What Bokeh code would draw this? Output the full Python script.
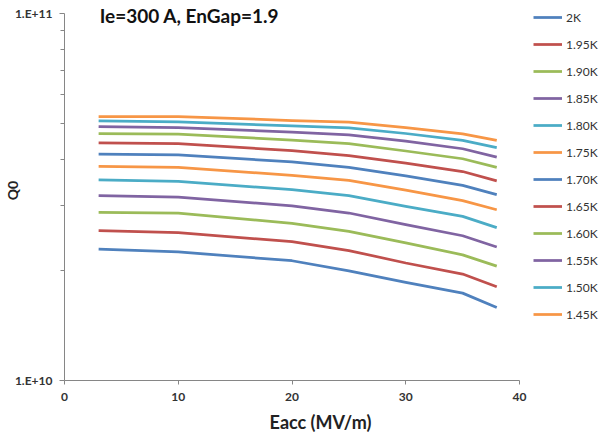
import math
from bokeh.plotting import figure
from bokeh.models import FixedTicker, Legend, LegendItem, Label
from bokeh.embed import file_html
from bokeh.resources import INLINE

# Accelerating field (MV/m)
eacc = [3, 10, 20, 25, 30, 35, 38]

# Q0 values in units of 1e10, one list per temperature
q_2k   = [2.28, 2.24, 2.12, 1.99, 1.85, 1.73, 1.58]
q_195k = [2.56, 2.53, 2.39, 2.26, 2.09, 1.95, 1.80]
q_190k = [2.87, 2.86, 2.68, 2.55, 2.37, 2.20, 2.05]
q_185k = [3.19, 3.16, 2.99, 2.86, 2.66, 2.48, 2.31]
q_180k = [3.52, 3.49, 3.31, 3.19, 2.98, 2.80, 2.61]
q_175k = [3.83, 3.81, 3.62, 3.51, 3.30, 3.09, 2.92]
q_170k = [4.14, 4.12, 3.94, 3.81, 3.61, 3.40, 3.21]
q_165k = [4.44, 4.42, 4.23, 4.10, 3.91, 3.71, 3.50]
q_160k = [4.71, 4.69, 4.52, 4.42, 4.22, 4.02, 3.81]
q_155k = [4.92, 4.89, 4.75, 4.67, 4.49, 4.28, 4.06]
q_150k = [5.10, 5.07, 4.94, 4.88, 4.71, 4.51, 4.31]
q_145k = [5.24, 5.24, 5.11, 5.06, 4.89, 4.70, 4.51]

series_names = ["2K", "1.95K", "1.90K", "1.85K", "1.80K", "1.75K",
                "1.70K", "1.65K", "1.60K", "1.55K", "1.50K", "1.45K"]
series_values = [q_2k, q_195k, q_190k, q_185k, q_180k, q_175k,
                 q_170k, q_165k, q_160k, q_155k, q_150k, q_145k]

x_ticks = [0, 10, 20, 30, 40]
y_ticks = [1e10, 1e11]
y_tick_labels = ["1.E+10", "1.E+11"]

title_text = "Ie=300 A, EnGap=1.9"

palette = ["#4F81BD", "#C0504D", "#9BBB59", "#8064A2", "#4BACC6", "#F79646"] * 2

FONT = "Lato"

# frame extends above 1e11 and right of 40 so the in-plot title and legend are not clipped;
# the axis lines are bounded to the data range
y_top = 1e11 * 10 ** (13 / 367)
x_right = 40 * (603 - 64) / 455

p = figure(width=603, height=440, y_axis_type="log",
           x_range=(0, x_right), y_range=(1e10, y_top),
           output_backend="svg", toolbar_location=None,
           min_border_left=64, min_border_right=0,
           min_border_top=0, min_border_bottom=60)
p.outline_line_color = None
p.xgrid.visible = False
p.ygrid.visible = False
p.background_fill_color = "white"
p.border_fill_color = "white"

items = []
for name, vals, col in zip(series_names, series_values, palette):
    r = p.line(eacc, [v * 1e10 for v in vals], line_color=col, line_width=2.75,
               line_join="round")
    items.append(LegendItem(label=name, renderers=[r]))

# axes
axis_col = "#868686"
p.xaxis.ticker = FixedTicker(ticks=x_ticks)
p.yaxis.ticker = FixedTicker(ticks=y_ticks,
                             minor_ticks=[k * 1e10 for k in range(2, 10)])
p.yaxis.bounds = (1e10, 1e11)
p.xaxis.bounds = (0, 40)
p.yaxis.major_label_overrides = {t: l for t, l in zip(y_ticks, y_tick_labels)}
for ax in (p.xaxis, p.yaxis):
    ax.axis_line_color = axis_col
    ax.major_tick_line_color = axis_col
    ax.minor_tick_line_color = axis_col
    ax.major_label_text_font = FONT
    ax.major_label_text_font_style = "bold"
    ax.major_label_text_color = "#333333"
p.xaxis.major_tick_out = 4
p.xaxis.major_tick_in = 0
p.xaxis.minor_tick_line_color = None
p.xaxis.major_label_text_font_size = "12px"
p.xaxis.major_label_standoff = 8
# trailing em spaces shift the centred label left so it sits where the reference has it
p.xaxis.axis_label = "Eacc (MV/m)\u2003\u2003"
p.xaxis.axis_label_text_font = FONT
p.xaxis.axis_label_text_font_size = "18px"
p.xaxis.axis_label_text_font_style = "bold"
p.xaxis.axis_label_text_color = "#222222"
p.xaxis.axis_label_standoff = 7

p.yaxis.major_tick_out = 5
p.yaxis.major_tick_in = 0
p.yaxis.minor_tick_out = 4
p.yaxis.minor_tick_in = 0
p.yaxis.major_label_text_font_size = "12px"
p.yaxis.major_label_standoff = 7
p.yaxis.axis_label = "Q0"
p.yaxis.axis_label_text_font = FONT
p.yaxis.axis_label_text_font_size = "14px"
p.yaxis.axis_label_text_font_style = "bold"
p.yaxis.axis_label_text_color = "#222222"
p.yaxis.axis_label_standoff = -9

# Title inside plot
p.add_layout(Label(x=3.1, y=0.985e11, text=title_text,
                   text_font=FONT, text_font_style="bold", text_font_size="19px",
                   text_color="#111111", text_align="left", text_baseline="middle"))

legend = Legend(items=items, location=(469, 56),
                label_text_font=FONT, label_text_font_size="12px",
                label_text_color="#333333",
                glyph_width=29, glyph_height=20, label_height=20,
                label_standoff=4, spacing=7, padding=0, margin=0,
                border_line_color=None, background_fill_alpha=0)
p.add_layout(legend, "center")

open("out.html", "w").write(file_html(p, INLINE))
